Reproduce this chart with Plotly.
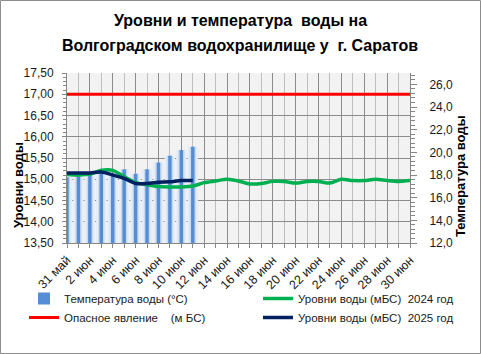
import plotly.graph_objects as go

# ---------------- data ----------------
dates = [
    "2025-05-31", "2025-06-01", "2025-06-02", "2025-06-03", "2025-06-04", "2025-06-05",
    "2025-06-06", "2025-06-07", "2025-06-08", "2025-06-09", "2025-06-10", "2025-06-11",
    "2025-06-12", "2025-06-13", "2025-06-14", "2025-06-15", "2025-06-16", "2025-06-17",
    "2025-06-18", "2025-06-19", "2025-06-20", "2025-06-21", "2025-06-22", "2025-06-23",
    "2025-06-24", "2025-06-25", "2025-06-26", "2025-06-27", "2025-06-28", "2025-06-29",
    "2025-06-30",
]
level_2024 = [
    15.11, 15.10, 15.12, 15.21, 15.21, 15.06, 14.92, 14.87, 14.83, 14.82, 14.82,
    14.84, 14.92, 14.96, 15.00, 14.96, 14.89, 14.90, 14.95, 14.95, 14.91, 14.95,
    14.95, 14.91, 15.00, 14.97, 14.97, 15.00, 14.97, 14.95, 14.97,
]
level_2025 = [15.15, 15.15, 15.15, 15.17, 15.10, 15.02, 14.90, 14.90, 14.93, 14.94, 14.97, 14.97]
temp_2025 = [17.8, 17.9, 18.0, 18.3, 18.1, 18.5, 18.1, 18.5, 19.1, 19.7, 20.2, 20.5]
danger_level = [
    17.00, 17.00, 17.00, 17.00, 17.00, 17.00, 17.00, 17.00, 17.00, 17.00, 17.00,
    17.00, 17.00, 17.00, 17.00, 17.00, 17.00, 17.00, 17.00, 17.00, 17.00, 17.00,
    17.00, 17.00, 17.00, 17.00, 17.00, 17.00, 17.00, 17.00, 17.00,
]
tick_dates = dates[0::2]
tick_text = ["31 май", "2 июн", "4 июн", "6 июн", "8 июн", "10 июн", "12 июн", "14 июн",
             "16 июн", "18 июн", "20 июн", "22 июн", "24 июн", "26 июн", "28 июн", "30 июн"]
level_ticks = [13.5, 14.0, 14.5, 15.0, 15.5, 16.0, 16.5, 17.0, 17.5]
temp_ticks = [12, 14, 16, 18, 20, 22, 24, 26]

# ---------------- geometry helpers ----------------
W, H = 481, 354
L, R, T, B = 67, 410, 73, 243
DAY = 86400000


def px(x):
    return (x - L) / (R - L)


def py(y):
    return (B - y) / (B - T)


n_t = len(temp_2025)
fig = go.Figure()

# soft gradient halo of the temperature bars (Excel gradient fill)
fig.add_trace(go.Bar(x=dates[:n_t], y=temp_2025, yaxis="y", width=0.9 * DAY,
                     marker=dict(color="#E6EDF7", line=dict(width=0)),
                     showlegend=False, hoverinfo="skip"))
fig.add_trace(go.Bar(x=dates[:n_t], y=temp_2025, yaxis="y", width=0.55 * DAY,
                     marker=dict(color="#C9D9EF", line=dict(width=0)),
                     showlegend=False, hoverinfo="skip"))
fig.add_trace(go.Bar(x=dates[:n_t], y=temp_2025, yaxis="y", width=0.3 * DAY,
                     marker=dict(color="#558ED5", line=dict(width=0)),
                     name="Температура воды (°С)", legend="legend"))

fig.add_trace(go.Scatter(x=dates, y=level_2024, yaxis="y2", mode="lines",
                         line=dict(color="#00B050", width=3.5, shape="spline", smoothing=0.8),
                         name="Уровни воды (мБС)  2024 год", legend="legend2"))
fig.add_trace(go.Scatter(x=dates, y=danger_level, yaxis="y2", mode="lines",
                         line=dict(color="#FF0000", width=3),
                         name="Опасное явление    (м БС)", legend="legend"))
fig.add_trace(go.Scatter(x=dates[:len(level_2025)], y=level_2025, yaxis="y2", mode="lines",
                         line=dict(color="#002060", width=3.5, shape="spline", smoothing=0.8),
                         name="Уровни воды (мБС)  2025 год", legend="legend2"))

axis_gray = "#868686"
legend_common = dict(orientation="v", xanchor="left", yanchor="top", font=dict(size=11.5),
                     bgcolor="rgba(0,0,0,0)", traceorder="normal", tracegroupgap=0,
                     itemwidth=30)
fig.update_layout(
    width=W, height=H,
    margin=dict(l=L, r=W - R, t=T, b=H - B, autoexpand=False),
    paper_bgcolor="white", plot_bgcolor="#F2F2F2",
    separators=", ",
    barmode="overlay",
    font=dict(family="Liberation Sans, Arial, sans-serif", size=11, color="#1a1a1a"),
    xaxis=dict(
        type="date", range=[dates[0], dates[-1]],
        tickmode="array", tickvals=tick_dates, ticktext=tick_text, tickangle=-45,
        showgrid=True, gridcolor="#8C8C8C", gridwidth=1,
        ticks="outside", ticklen=4, tickcolor=axis_gray,
        showline=True, linecolor=axis_gray, zeroline=False,
        minor=dict(dtick=DAY, tick0=dates[0], showgrid=True, gridcolor="#BEBEBE",
                   ticks="outside", ticklen=4, tickcolor=axis_gray),
        tickfont=dict(size=12.5),
    ),
    yaxis=dict(
        side="right", range=[12, 27], tickmode="array", tickvals=temp_ticks,
        tickformat=".1f", showgrid=False, zeroline=False,
        ticks="outside", ticklen=6, tickcolor=axis_gray,
        showline=True, linecolor=axis_gray,
        minor=dict(dtick=0.4, tick0=12, ticks="outside", ticklen=4, tickcolor=axis_gray),
        ticklabelstandoff=10,
        tickfont=dict(size=12),
    ),
    yaxis2=dict(
        side="left", overlaying="y", range=[13.5, 17.5], tickmode="array",
        tickvals=level_ticks, tickformat=".2f",
        showgrid=True, gridcolor="#8C8C8C", gridwidth=1, zeroline=False,
        ticks="outside", ticklen=4, tickcolor=axis_gray,
        showline=True, linecolor=axis_gray,
        minor=dict(dtick=0.1, tick0=13.5, ticks="outside", ticklen=3, tickcolor=axis_gray),
        ticklabelstandoff=6,
        tickfont=dict(size=12),
    ),
    legend=dict(x=px(24), y=py(284), **legend_common),
    legend2=dict(x=px(258), y=py(284), **legend_common),
    showlegend=True,
)

title_font = dict(family="Liberation Sans, Arial, sans-serif", size=16, color="#000000")
fig.add_annotation(text="<b>Уровни и температура  воды на</b>", x=px(240), y=py(21),
                   xref="paper", yref="paper", showarrow=False, font=title_font,
                   xanchor="center", yanchor="middle")
fig.add_annotation(text="<b>Волгоградском водохранилище у  г. Саратов</b>", x=px(240), y=py(46),
                   xref="paper", yref="paper", showarrow=False, font=title_font,
                   xanchor="center", yanchor="middle")
fig.add_annotation(text="<b>Уровни воды</b>", x=px(18), y=py(185), xref="paper", yref="paper",
                   showarrow=False, textangle=-90, font=dict(size=13, color="#000000"),
                   xanchor="center", yanchor="middle")
fig.add_annotation(text="<b>Температура воды</b>", x=px(460), y=py(176), xref="paper", yref="paper",
                   showarrow=False, textangle=-90, font=dict(size=13, color="#000000"),
                   xanchor="center", yanchor="middle")

fig.add_shape(type="rect", xref="paper", yref="paper",
              x0=px(0.5), x1=px(480.5), y0=py(0.5), y1=py(353.5),
              line=dict(color="#8C8C8C", width=1), fillcolor="rgba(0,0,0,0)", layer="above")

fig.write_html("out.html")
